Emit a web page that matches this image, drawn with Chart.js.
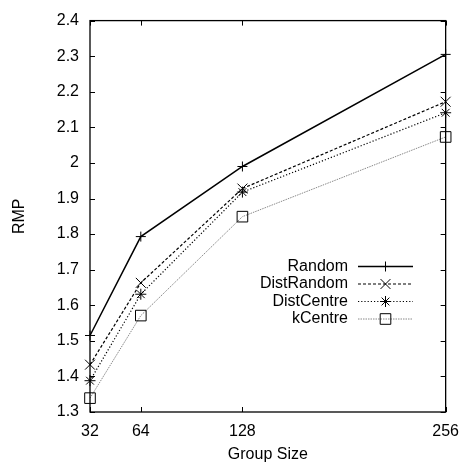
<!DOCTYPE html>
<html>
<head>
<meta charset="utf-8">
<script src="https://cdn.jsdelivr.net/npm/chart.js@4/dist/chart.umd.min.js"></script>
<style>
html,body{margin:0;padding:0;background:#fff;}
#wrap{width:469px;height:465px;}
</style>
</head>
<body>
<div id="wrap"><canvas id="c" width="469" height="465"></canvas></div>
<script>
const groupSizes = [32, 64, 128, 256];
const yTicks = [1.3, 1.4, 1.5, 1.6, 1.7, 1.8, 1.9, 2.0, 2.1, 2.2, 2.3, 2.4];
const seriesNames = ['Random', 'DistRandom', 'DistCentre', 'kCentre'];
const randomVals = [1.515, 1.793, 1.99, 2.305];
const distRandomVals = [1.433, 1.663, 1.928, 2.172];
const distCentreVals = [1.388, 1.631, 1.918, 2.141];
const kCentreVals = [1.339, 1.571, 1.849, 2.073];

const FONT = "'Liberation Sans', Arial, Helvetica, sans-serif";

const styles = [
  {color:'#000', width:1.5, dash:[], point:'cross', r:5},
  {color:'#000', width:1.2, dash:[3,2], point:'crossRot', r:7},
  {color:'#000', width:1.2, dash:[1.2,2], point:'star', r:5.5},
  {color:'#888', width:1, dash:[1.5,1], point:'rect', r:7.5}
];
const allVals = [randomVals, distRandomVals, distCentreVals, kCentreVals];

const datasets = allVals.map((vals, i) => ({
  label: seriesNames[i],
  data: groupSizes.map((g, j) => ({x: g, y: vals[j]})),
  borderColor: styles[i].color,
  borderWidth: styles[i].width,
  borderDash: styles[i].dash,
  pointStyle: styles[i].point,
  pointRadius: styles[i].r,
  pointHoverRadius: styles[i].r,
  pointBorderColor: '#000',
  pointBackgroundColor: 'rgba(0,0,0,0)',
  pointBorderWidth: 1,
  fill: false,
  clip: false,
  tension: 0
}));

const framePlugin = {
  id: 'frame',
  afterDatasetsDraw(chart) {
    const ctx = chart.ctx, a = chart.chartArea;
    const xs = chart.scales.x, ys = chart.scales.y;
    ctx.save();
    ctx.strokeStyle = '#000';
    ctx.lineWidth = 1.3;
    ctx.setLineDash([]);
    ctx.strokeRect(a.left, a.top, a.right - a.left, a.bottom - a.top);
    ctx.lineWidth = 1;
    const L = 5;
    ctx.beginPath();
    yTicks.forEach(v => {
      const y = Math.round(ys.getPixelForValue(v)) + 0.5;
      ctx.moveTo(a.left, y); ctx.lineTo(a.left + L, y);
      ctx.moveTo(a.right, y); ctx.lineTo(a.right - L, y);
    });
    groupSizes.forEach(v => {
      const x = Math.round(xs.getPixelForValue(v)) + 0.5;
      ctx.moveTo(x, a.bottom); ctx.lineTo(x, a.bottom - L);
      ctx.moveTo(x, a.top); ctx.lineTo(x, a.top + L);
    });
    ctx.stroke();

    // legend
    const textRight = 348, x0 = 358, x1 = 413, rows = [266.5, 284, 301.5, 319];
    ctx.font = '16px ' + FONT;
    ctx.fillStyle = '#000';
    ctx.textAlign = 'right';
    ctx.textBaseline = 'middle';
    seriesNames.forEach((n, i) => {
      const y = rows[i];
      ctx.fillText(n, textRight, y);
      ctx.save();
      ctx.strokeStyle = styles[i].color;
      ctx.lineWidth = styles[i].width;
      ctx.setLineDash(styles[i].dash);
      ctx.beginPath();
      ctx.moveTo(x0, y); ctx.lineTo(x1, y);
      ctx.stroke();
      ctx.restore();
      ctx.save();
      ctx.strokeStyle = '#000';
      ctx.fillStyle = 'rgba(0,0,0,0)';
      ctx.lineWidth = 1;
      ctx.setLineDash([]);
      Chart.helpers.drawPoint(ctx, {pointStyle: styles[i].point, radius: styles[i].r, rotation: 0, borderWidth: 1}, (x0 + x1) / 2, y);
      ctx.restore();
    });
    ctx.restore();
  }
};

new Chart(document.getElementById('c'), {
  type: 'line',
  data: { datasets },
  options: {
    responsive: false,
    animation: false,
    devicePixelRatio: 1,
    layout: { padding: { top: 12, right: 17, left: 0, bottom: 0 } },
    plugins: { legend: { display: false }, tooltip: { enabled: false } },
    scales: {
      x: {
        type: 'linear',
        min: 32, max: 256,
        afterBuildTicks(scale) { scale.ticks = groupSizes.map(v => ({value: v})); },
        afterFit(scale) { scale.height = 53; },
        grid: { display: false, drawTicks: false },
        border: { display: false },
        ticks: { color: '#000', font: { family: FONT, size: 16 }, padding: 10, maxRotation: 0, autoSkip: false,
          callback: v => String(v) },
        title: { display: true, text: 'Group Size', color: '#000', font: { family: FONT, size: 16 }, padding: { top: 0, bottom: 1 } }
      },
      y: {
        type: 'linear',
        min: 1.3, max: 2.4,
        afterBuildTicks(scale) { scale.ticks = yTicks.map(v => ({value: v})); },
        afterFit(scale) { scale.width = 90; },
        grid: { display: false, drawTicks: false },
        border: { display: false },
        ticks: { color: '#000', font: { family: FONT, size: 16 }, padding: 11, autoSkip: false,
          callback: v => String(Number(v.toFixed(1))) },
        title: { display: true, text: 'RMP', color: '#000', font: { family: FONT, size: 16 }, padding: { top: 10, bottom: 0 } }
      }
    }
  },
  plugins: [framePlugin]
});
</script>
</body>
</html>
